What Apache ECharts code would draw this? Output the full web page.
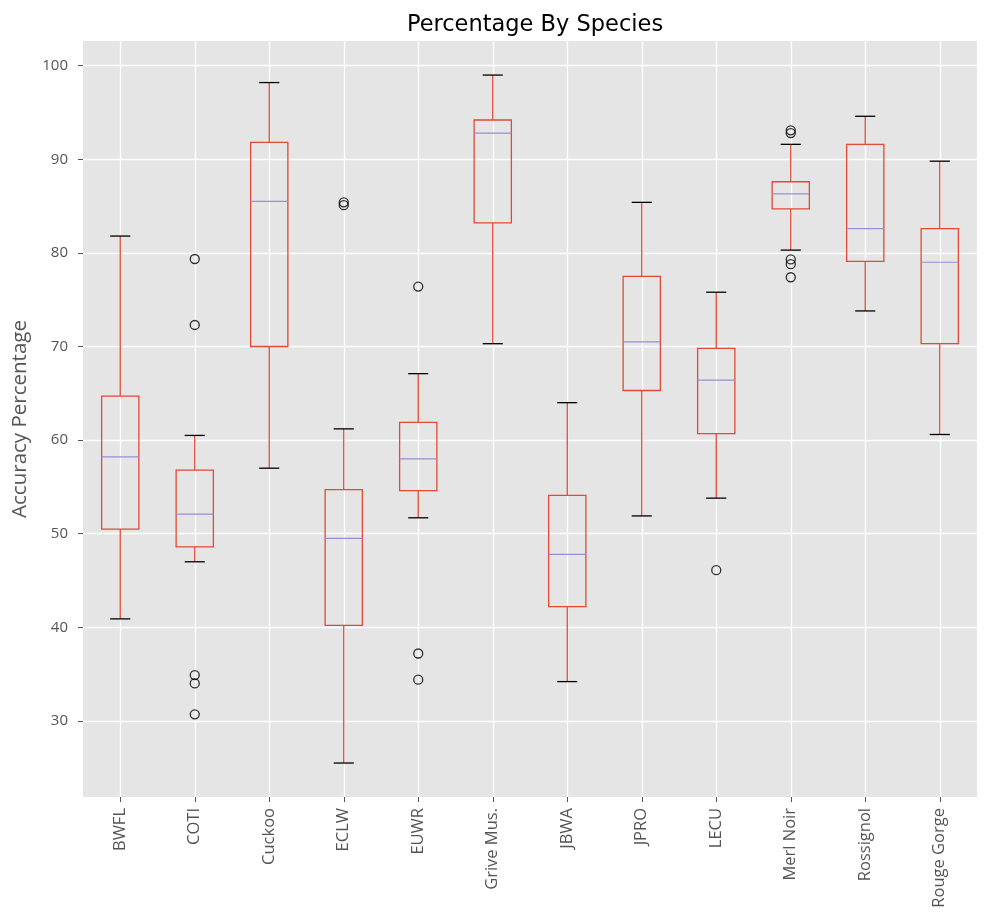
<!DOCTYPE html>
<html>
<head>
<meta charset="utf-8">
<script src="https://cdn.jsdelivr.net/npm/echarts@6/dist/echarts.min.js"></script>
<style>html,body{margin:0;padding:0;background:#fff;}#c{width:1007px;height:914px;}</style>
</head>
<body>
<div id="c"></div>
<script>
const categories = ['BWFL','COTI','Cuckoo','ECLW','EUWR','Grive Mus.','JBWA','JPRO','LECU','Merl Noir','Rossignol','Rouge Gorge'];
const whiskerLow  = [40.9, 47.0, 57.0, 25.5, 51.7, 70.3, 34.2, 51.9, 53.8, 80.3, 73.8, 60.6];
const q1          = [50.5, 48.6, 70.0, 40.2, 54.6, 83.2, 42.2, 65.3, 60.7, 84.7, 79.1, 70.3];
const medians     = [58.2, 52.1, 85.5, 49.5, 58.0, 92.8, 47.8, 70.5, 66.4, 86.3, 82.6, 79.0];
const q3          = [64.7, 56.8, 91.8, 54.7, 61.9, 94.2, 54.1, 77.5, 69.8, 87.6, 91.6, 82.6];
const whiskerHigh = [81.8, 60.5, 98.2, 61.2, 67.1, 99.0, 64.0, 85.4, 75.8, 91.6, 94.6, 89.8];
const outliers = [
  [],
  [79.35, 72.3, 34.9, 34.0, 30.7],
  [],
  [85.4, 85.1],
  [76.4, 37.2, 34.4],
  [],
  [],
  [],
  [46.1],
  [93.1, 92.8, 79.3, 78.8, 77.4],
  [],
  []
];
const yTicks = [30, 40, 50, 60, 70, 80, 90, 100];

const boxData = categories.map((c, i) => [i, whiskerLow[i], q1[i], medians[i], q3[i], whiskerHigh[i]]);
const outlierData = [];
outliers.forEach((arr, i) => arr.forEach(v => outlierData.push([i, v])));

function renderBox(params, api) {
  const i = api.value(0);
  const band = api.size([1, 0])[0];
  const half = band * 0.25;
  const cap = band * 0.135;
  const pLow = api.coord([i, api.value(1)]);
  const pQ1 = api.coord([i, api.value(2)]);
  const pMed = api.coord([i, api.value(3)]);
  const pQ3 = api.coord([i, api.value(4)]);
  const pHigh = api.coord([i, api.value(5)]);
  const x = pQ1[0];
  const red = '#E24A33';
  return {
    type: 'group',
    children: [
      {type: 'line', shape: {x1: x, y1: pLow[1], x2: x, y2: pQ1[1]}, style: {stroke: red, lineWidth: 1.3}},
      {type: 'line', shape: {x1: x, y1: pQ3[1], x2: x, y2: pHigh[1]}, style: {stroke: red, lineWidth: 1.3}},
      {type: 'rect', shape: {x: x - half, y: pQ3[1], width: half * 2, height: pQ1[1] - pQ3[1]}, style: {fill: 'none', stroke: red, lineWidth: 1.3}},
      {type: 'line', shape: {x1: x - half, y1: pMed[1], x2: x + half, y2: pMed[1]}, style: {stroke: '#988ED5', lineWidth: 1.2}},
      {type: 'line', shape: {x1: x - cap, y1: pLow[1], x2: x + cap, y2: pLow[1]}, style: {stroke: '#000', lineWidth: 1.3}},
      {type: 'line', shape: {x1: x - cap, y1: pHigh[1], x2: x + cap, y2: pHigh[1]}, style: {stroke: '#000', lineWidth: 1.3}}
    ]
  };
}

const chart = echarts.init(document.getElementById('c'), null, {renderer: 'canvas'});
chart.setOption({
  backgroundColor: '#fff',
  animation: false,
  title: {
    text: 'Percentage By Species',
    left: 530, top: 9, textAlign: 'center',
    textStyle: {fontFamily: 'DejaVu Sans', fontSize: 22.5, fontWeight: 'normal', color: '#000'}
  },
  grid: {left: 83, right: 30, top: 41, bottom: 117, show: true, backgroundColor: '#E5E5E5', borderWidth: 0, containLabel: false, outerBoundsMode: 'none'},
  xAxis: {
    type: 'category',
    data: categories,
    boundaryGap: true,
    axisLine: {show: false},
    axisTick: {show: true, alignWithLabel: true, length: 5, lineStyle: {color: '#555'}},
    splitLine: {show: true, alignWithLabel: true, lineStyle: {color: '#fff', width: 1.3}},
    axisLabel: {rotate: 90, margin: 11, color: '#555', fontFamily: '"Open Sans"', fontSize: 16.5, interval: 0}
  },
  yAxis: {
    type: 'value',
    min: 21.87, max: 102.64,
    name: 'Accuracy Percentage',
    nameLocation: 'middle',
    nameRotate: 90,
    nameGap: 52,
    nameTextStyle: {color: '#555', fontFamily: '"Open Sans"', fontSize: 20.5},
    axisLine: {show: false},
    axisTick: {show: true, length: 5, lineStyle: {color: '#555'}, customValues: yTicks},
    axisLabel: {color: '#555', fontFamily: '"Open Sans"', fontSize: 15, margin: 15, customValues: yTicks},
    splitLine: {show: true, lineStyle: {color: '#fff', width: 1.3}}
  },
  series: [
    {
      type: 'custom',
      renderItem: renderBox,
      data: boxData,
      encode: {x: 0, y: [1, 2, 3, 4, 5]},
      z: 3
    },
    {
      type: 'scatter',
      data: outlierData,
      symbol: 'circle',
      symbolSize: 9,
      itemStyle: {color: 'rgba(0,0,0,0)', borderColor: '#000', borderWidth: 1.3},
      z: 4
    }
  ]
});
</script>
</body>
</html>
